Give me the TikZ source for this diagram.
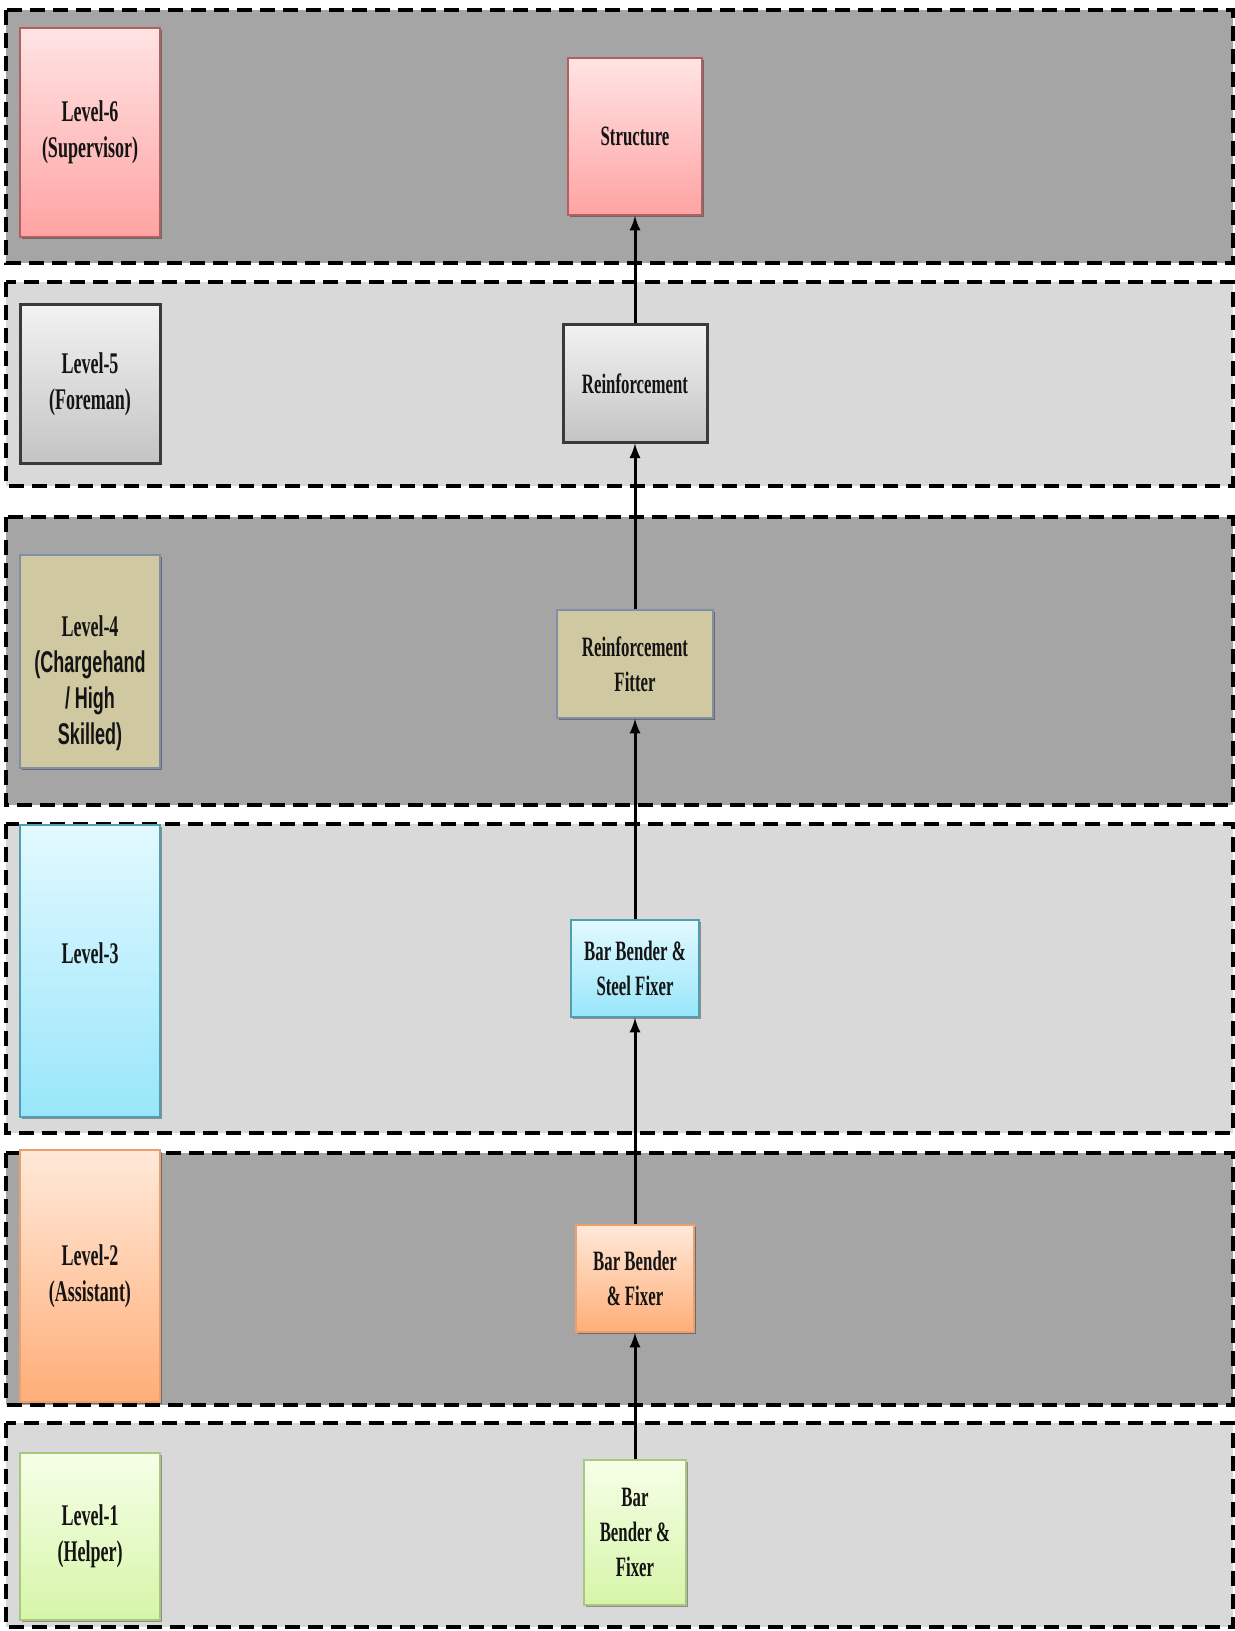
\documentclass[tikz,border=0pt]{standalone}
\usepackage{fontspec}
\setmainfont{Liberation Serif}[FakeStretch=0.6]
\newfontfamily\condsans{Liberation Sans}[FakeStretch=0.6]
\usetikzlibrary{positioning,arrows,shadows}
\definecolor{banddark}   {RGB}{165,165,165}
\definecolor{bandlight}  {RGB}{217,217,217}
\definecolor{colortext}  {RGB}{20 ,20 ,20 }
\definecolor{pinktop}    {RGB}{255,228,228}
\definecolor{pinkbot}    {RGB}{255,163,163}
\definecolor{pinkline}   {RGB}{176,96 ,96 }
\definecolor{greytop}    {RGB}{242,242,242}
\definecolor{greybot}    {RGB}{196,196,196}
\definecolor{greyline}   {RGB}{58 ,58 ,58 }
\definecolor{tanfill}    {RGB}{208,200,160}
\definecolor{tanline}    {RGB}{127,143,166}
\definecolor{cyantop}    {RGB}{226,249,255}
\definecolor{cyanbot}    {RGB}{152,230,250}
\definecolor{cyanline}   {RGB}{79 ,159,176}
\definecolor{orangetop}  {RGB}{255,233,217}
\definecolor{orangebot}  {RGB}{255,174,120}
\definecolor{orangeline} {RGB}{232,160,112}
\definecolor{greentop}   {RGB}{246,255,232}
\definecolor{greenbot}   {RGB}{214,245,168}
\definecolor{greenline}  {RGB}{168,200,128}

\begin{document}
\begin{tikzpicture}[
    x=0.5pt, y=-0.5pt,
    font={\fontsize{15}{18}\selectfont\bfseries},
    band/.style={draw=black,line width=2pt,dash pattern=on 7.5pt off 4pt},
    darkband/.style={band,fill=banddark},
    lightband/.style={band,fill=bandlight},
    base/.style={text=colortext,align=center,rectangle,inner sep=2pt,line width=0.8pt,
        drop shadow={shadow xshift=0.8pt,shadow yshift=-1.2pt,opacity=0.35,fill=black}},
    level/.style={base,minimum width=70pt},
    job/.style={base,font={\fontsize{14}{17.5}\selectfont\bfseries}},
    pinkbox/.style={draw=pinkline,top color=pinktop,bottom color=pinkbot},
    greybox/.style={draw=greyline,line width=1.5pt,top color=greytop,bottom color=greybot},
    tanbox/.style={draw=tanline,fill=tanfill},
    cyanbox/.style={draw=cyanline,top color=cyantop,bottom color=cyanbot},
    orangebox/.style={draw=orangeline,top color=orangetop,bottom color=orangebot},
    greenbox/.style={draw=greenline,top color=greentop,bottom color=greenbot},
    link/.style={-latex,line width=1.5pt},
]
    \useasboundingbox (0,0) rectangle (1235,1631);

    % Bands
    \draw[darkband]  (6,10)   rectangle (1233,263);
    \draw[lightband] (6,282)  rectangle (1233,486);
    \draw[darkband]  (6,517)  rectangle (1233,805);
    \draw[lightband] (6,824)  rectangle (1233,1133);
    \draw[darkband]  (6,1153) rectangle (1233,1405);
    \draw[lightband] (6,1423) rectangle (1233,1627);

    % Levels
    \node[level,pinkbox,minimum height=104.5pt]   (level6) at (90,132.5)  {Level-6\\(Supervisor)};
    \node[level,greybox,minimum height=79pt]      (level5) at (90,384)    {Level-5\\(Foreman)};
    \node[level,tanbox,minimum height=106.5pt]    (level4) at (90,661.5)
        {\mbox{}\\[14.5pt]Level-4\\{\condsans (Chargehand}\\{\condsans / High}\\{\condsans Skilled)}};
    \node[level,cyanbox,minimum height=146pt]     (level3) at (90,971)    {Level-3\\~};
    \node[level,orangebox,minimum height=126pt]   (level2) at (90,1276)   {Level-2\\(Assistant)};
    \node[level,greenbox,minimum height=83.5pt]   (level1) at (90,1536.5) {Level-1\\(Helper)};

    % Trades
    \node[job,pinkbox,minimum width=67pt,minimum height=78.5pt]   (structure) at (635,136.5)  {Structure};
    \node[job,greybox,minimum width=72pt,minimum height=58.5pt]   (reinf)     at (635,383.5)  {Reinforcement};
    \node[job,tanbox,minimum width=78pt,minimum height=54pt]      (fitter)    at (635,664)    {Reinforcement\\Fitter};
    \node[job,cyanbox,minimum width=64pt,minimum height=48.5pt]   (steelfix)  at (635,968.5)  {Bar Bender \&\\Steel Fixer};
    \node[job,orangebox,minimum width=59pt,minimum height=53.5pt] (assist)    at (635,1278.5) {Bar Bender\\\& Fixer};
    \node[job,greenbox,minimum width=51pt,minimum height=72.5pt]  (helper)    at (635,1532.5) {Bar\\Bender \&\\Fixer};

    % Arrows
    \draw[link] (helper)   -- (assist);
    \draw[link] (assist)   -- (steelfix);
    \draw[link] (steelfix) -- (fitter);
    \draw[link] (fitter)   -- (reinf);
    \draw[link] (reinf)    -- (structure);

\end{tikzpicture}
\end{document}
